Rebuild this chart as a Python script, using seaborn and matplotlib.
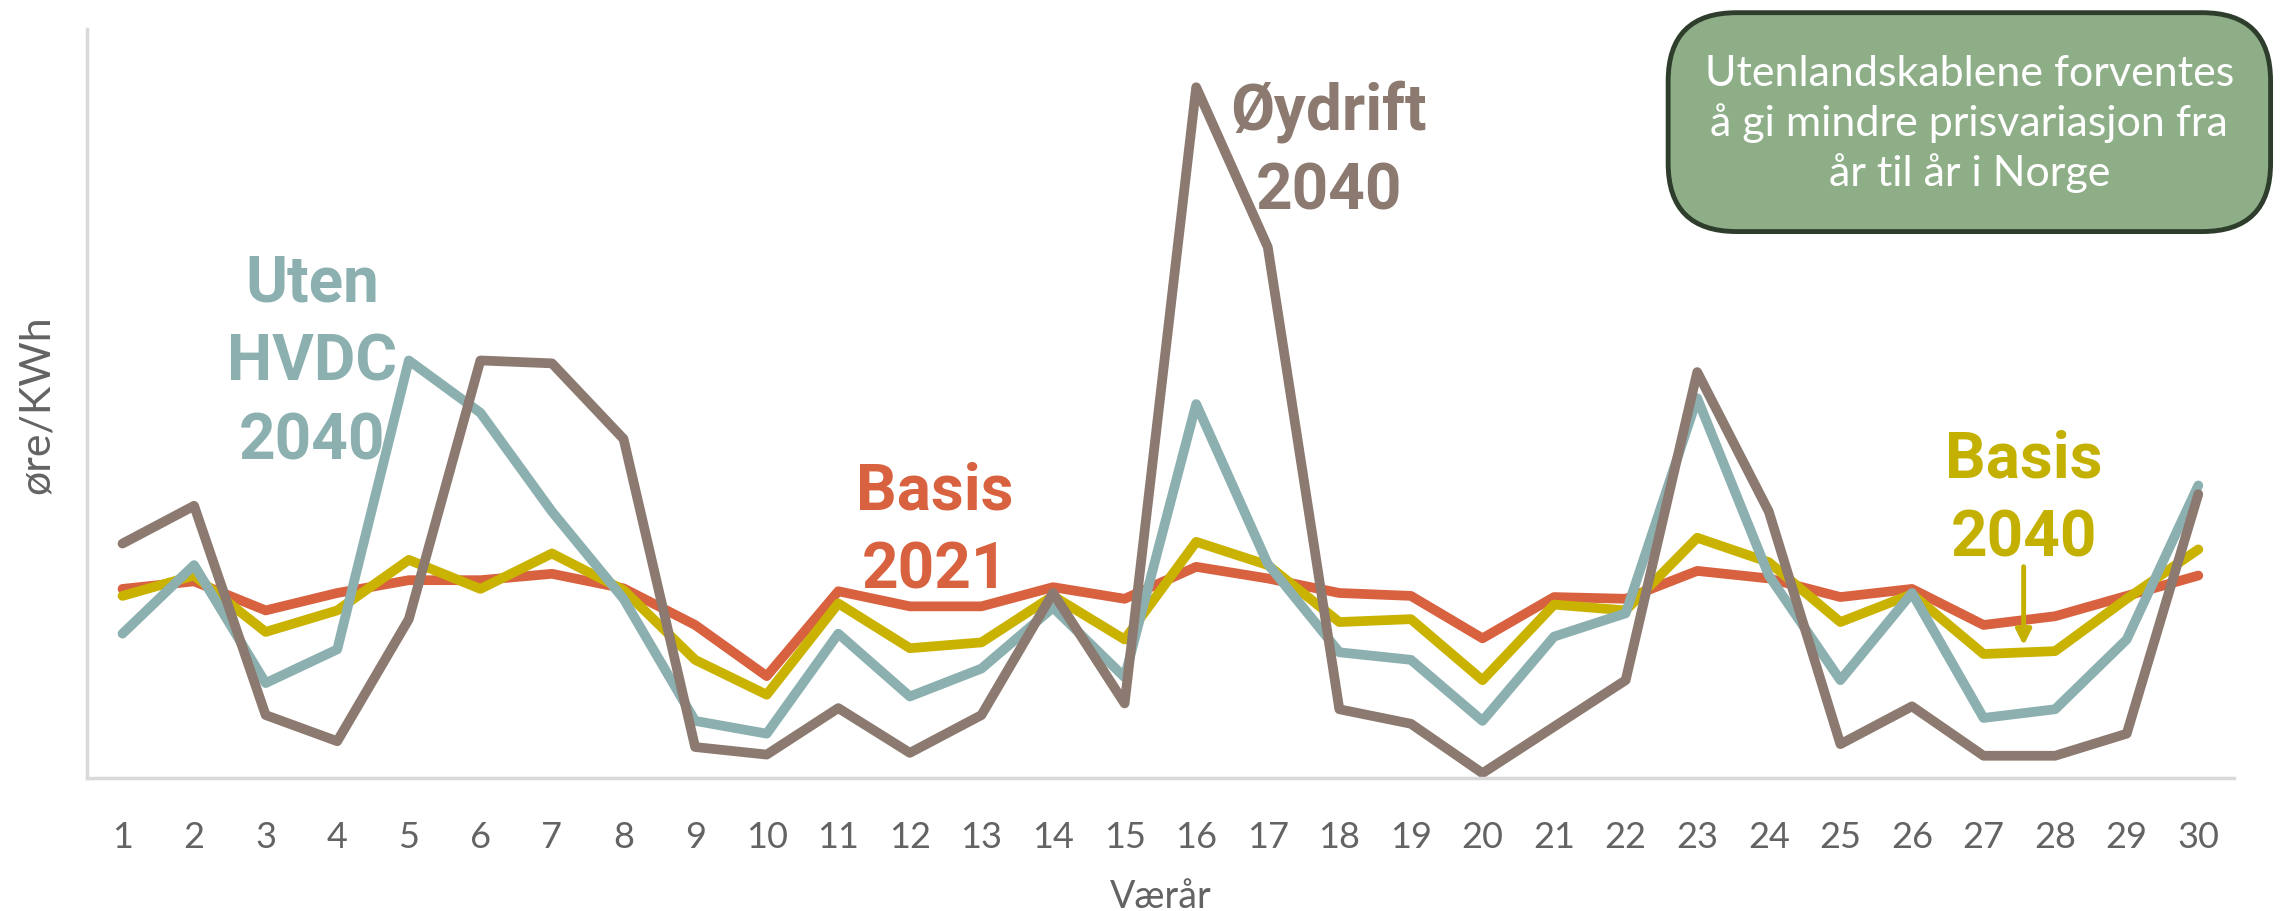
import pandas as pd
import matplotlib.pyplot as plt
import seaborn as sns
from matplotlib.patches import FancyBboxPatch

# weather years 1..30
years = list(range(1, 31))

# prices (relative)
basis_2021 = [32.5, 33.8, 28.8, 31.8, 34.0, 34.0, 35.1, 32.6, 26.3, 17.5,
              32.1, 29.5, 29.5, 32.8, 30.8, 36.3, 34.3, 31.8, 31.3, 24.0,
              31.1, 30.8, 35.6, 34.3, 31.1, 32.5, 26.3, 27.8, 31.3, 34.8]
basis_2040 = [31.3, 34.8, 25.1, 28.8, 37.5, 32.5, 38.6, 32.3, 20.3, 14.3,
              30.0, 22.3, 23.3, 31.3, 23.8, 40.6, 36.6, 26.8, 27.3, 16.8,
              29.8, 28.8, 41.3, 37.1, 26.8, 31.6, 21.3, 21.8, 30.8, 39.3]
uten_hvdc_2040 = [24.8, 36.6, 16.3, 22.1, 71.8, 62.8, 45.8, 30.8, 9.8, 7.6,
                  24.8, 14.0, 18.8, 29.3, 17.3, 64.3, 36.8, 21.6, 20.3, 9.8,
                  24.3, 28.3, 65.3, 34.8, 16.8, 31.8, 10.3, 11.8, 23.8, 50.3]
oydrift_2040 = [40.3, 46.8, 10.8, 6.3, 27.3, 71.8, 71.3, 58.3, 5.3, 4.0,
                12.0, 4.3, 10.8, 31.8, 12.8, 118.8, 91.3, 11.8, 9.3, 0.8,
                8.8, 16.8, 69.8, 45.8, 5.8, 12.3, 3.8, 3.8, 7.6, 48.8]

series_names = ["Basis 2021", "Basis 2040", "Uten HVDC 2040", "Øydrift 2040"]
series_colors = ["#d8613f", "#c9b300", "#8cb0b0", "#8c7a70"]

df = pd.DataFrame({
    "Værår": years * 4,
    "pris": basis_2021 + basis_2040 + uten_hvdc_2040 + oydrift_2040,
    "scenario": [n for n in series_names for _ in years],
})

sns.set_style("white")
plt.rcParams['font.family'] = ['Lato', 'DejaVu Sans']

fig = plt.figure(figsize=(22.82, 9.12), dpi=100)
ax = fig.add_axes([0.038, 0.146, 0.941, 0.821])

sns.lineplot(data=df, x="Værår", y="pris", hue="scenario",
             palette=dict(zip(series_names, series_colors)),
             linewidth=7, legend=False, ax=ax, sort=False)

ax.set_xlim(0.5, 30.5)
ax.set_ylim(0, 128.8)
ax.set_xticks(years)
ax.set_xticklabels([str(y) for y in years], fontsize=26, color="#636363")
ax.set_yticks([])
ax.tick_params(axis="x", length=0, pad=30)
for s in ["top", "right"]:
    ax.spines[s].set_visible(False)
for s in ["left", "bottom"]:
    ax.spines[s].set_color("#d9d9d9")
    ax.spines[s].set_linewidth(2.5)
ax.set_xlabel("Værår", fontsize=27, color="#636363", labelpad=18)
ax.set_ylabel("øre/KWh", fontsize=31, color="#636363", labelpad=22)

# series labels
lab = dict(fontsize=46, fontweight="bold", family="Roboto", ha="center",
           va="center", linespacing=1.38)
ax.text(3.65, 71.5, "Uten\nHVDC\n2040", color=series_colors[2], **lab)
ax.text(12.35, 42.5, "Basis\n2021", color=series_colors[0], **lab)
ax.text(17.85, 108, "Øydrift\n2040", color=series_colors[3], **lab)
ax.text(27.56, 48, "Basis\n2040", color="#c4b000", **lab)

ax.annotate("", xy=(27.56, 22.3), xytext=(27.56, 36.8),
            arrowprops=dict(arrowstyle="-|>,head_length=0.9,head_width=0.45",
                            color="#c4b000", lw=3.5))

# green text box
box = FancyBboxPatch((0.731, 0.745), 0.264, 0.24, transform=fig.transFigure,
                     boxstyle="round,pad=0,rounding_size=0.03",
                     facecolor="#8eae88", edgecolor="#2e3d2c", linewidth=3.5,
                     mutation_aspect=2.5)
fig.patches.append(box)
fig.text(0.863, 0.864, "Utenlandskablene forventes\nå gi mindre prisvariasjon fra\når til år i Norge",
         ha="center", va="center", color="white", fontsize=31, linespacing=1.3)

fig.savefig("out.png", dpi=100)
